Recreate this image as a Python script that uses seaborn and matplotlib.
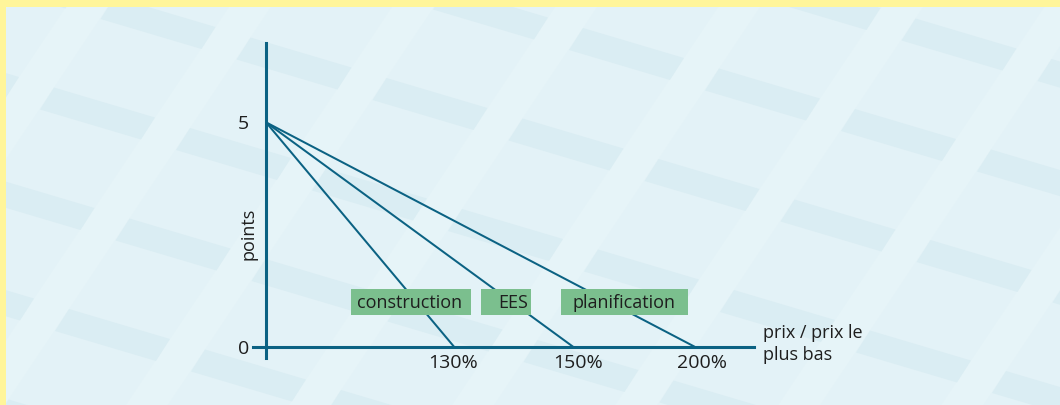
import numpy as np
import pandas as pd
import seaborn as sns
import matplotlib.pyplot as plt
import matplotlib.transforms as mtransforms
from matplotlib.patches import Polygon, Rectangle

# ---------------------------------------------------------------
# Données
# ---------------------------------------------------------------
series = ["construction", "EES", "planification"]
ratio_zero = [1.30, 1.50, 2.00]      # prix / prix le plus bas où l'on tombe à 0 point
max_points = 5
ratio_start = 1.00                   # prix le plus bas

y_ticks = [0, 5]
x_tick_labels = ["130%", "150%", "200%"]

# ---------------------------------------------------------------
# Mise en page
# ---------------------------------------------------------------
W, H = 1060, 405
line_col = "#0b6283"
text_col = "#1e1e1e"
box_col = "#7bbf8e"
yellow = "#fff59a"
bg_col = "#e3f2f7"
band_col = "#e6f4f8"
stripe_col = "#daedf3"

# l'axe x est schématique (non linéaire) : position en px de chaque ratio
knots_ratio = np.array([1.0, 1.3, 1.5, 2.0])
knots_px = np.array([0.0, 188.0, 307.0, 428.6])


def _pw(x, xs, ys):
    x = np.asarray(x, dtype=float)
    y = np.interp(x, xs, ys)
    lo = ys[0] + (x - xs[0]) * (ys[1] - ys[0]) / (xs[1] - xs[0])
    hi = ys[-1] + (x - xs[-1]) * (ys[-1] - ys[-2]) / (xs[-1] - xs[-2])
    return np.where(x < xs[0], lo, np.where(x > xs[-1], hi, y))


def fwd(x):
    return _pw(x, knots_ratio, knots_px)


def inv(p):
    return _pw(p, knots_px, knots_ratio)


df = pd.DataFrame({
    "serie": np.repeat(series, 2),
    "ratio": np.ravel([[ratio_start, r] for r in ratio_zero]),
    "points": np.tile([max_points, 0], len(series)),
})

sns.set_theme(style="white")
plt.rcParams["font.family"] = ["Open Sans", "DejaVu Sans"]

fig = plt.figure(figsize=(W / 100, H / 100), dpi=100)
fig.patch.set_facecolor(yellow)

# fond à motif (coordonnées en pixels)
bg = fig.add_axes([6 / W, 0, 1 - 6 / W, (H - 7) / H])
bg.set_xlim(6, W)
bg.set_ylim(H, 7)
bg.axis("off")
bg.add_patch(Rectangle((0, 0), W, H, color=bg_col, zorder=0))

p0 = np.array([583.0, 28.0])
va = np.array([136.0, 40.5])
vb = np.array([-60.5, 90.5])
top = np.array([101.0, 30.0])
side = np.array([-14.0, 22.0])
for k in range(-6, 10):
    q1 = p0 + top + k * va
    q2 = p0 + va + k * va
    bg.add_patch(Polygon([q1 - 6 * vb, q1 + 6 * vb, q2 + 6 * vb, q2 - 6 * vb],
                         closed=True, color=band_col, lw=0, zorder=1))
for m in range(-8, 10):
    for n in range(-4, 6):
        p = p0 + m * va + n * vb
        bg.add_patch(Polygon([p, p + top, p + top + side, p + side],
                             closed=True, color=stripe_col, lw=0, zorder=2))

# graphique
x_left, x_right = 252.5, 753.8
y_top, y_bot = 42.7, 357.7
origin_px = 266.0
ax = fig.add_axes([x_left / W, (H - y_bot) / H,
                   (x_right - x_left) / W, (y_bot - y_top) / H])
ax.patch.set_alpha(0)
ax.set_xscale("function", functions=(fwd, inv))

sns.lineplot(data=df, x="ratio", y="points", hue="serie",
             palette=[line_col] * len(series), legend=False, sort=False,
             lw=1.45, ax=ax, zorder=3)

ax.set_xlim(inv(x_left - origin_px), inv(x_right - origin_px))
px_per_pt = (346.7 - 122.3) / max_points
ax.set_ylim(-(y_bot - 346.7) / px_per_pt, (346.7 - y_top) / px_per_pt)

for s in ["top", "right"]:
    ax.spines[s].set_visible(False)
ax.spines["left"].set_position(("data", ratio_start))
ax.spines["bottom"].set_position(("data", 0))
for s in ["left", "bottom"]:
    ax.spines[s].set_color(line_col)
    ax.spines[s].set_linewidth(2.2)
    ax.spines[s].set_zorder(4)

ax.set_yticks(y_ticks)
ax.set_yticklabels([str(t) for t in y_ticks])
ax.set_xticks(ratio_zero)
ax.set_xticklabels(x_tick_labels)
ax.tick_params(axis="y", length=0, pad=12, labelsize=14, labelcolor=text_col)
ax.tick_params(axis="x", length=0, pad=5, labelsize=14, labelcolor=text_col)
ax.set_xlabel("")
ax.set_ylabel("")

# petits décalages des étiquettes x comme dans l'original
for lbl, dx in zip(ax.get_xticklabels(), [-1, 5, 7]):
    lbl.set_transform(lbl.get_transform()
                      + mtransforms.ScaledTranslation(dx / 100, 0, fig.dpi_scale_trans))

ax.text(-0.008, 0.393, "points", transform=ax.transAxes, rotation=90,
        ha="center", va="center", fontsize=13, color=text_col)
ax.text(1.018, (y_bot - 344) / (y_bot - y_top), "prix / prix le\nplus bas",
        transform=ax.transAxes, ha="left", va="center", fontsize=13,
        color=text_col, linespacing=1.3)

# étiquettes vertes
box_left = [351, 481, 561]
box_right = [471, 531, 688]
box_y0, box_y1 = 289, 315
text_cx = [410, 513, 623.5]
for lab, l, r, cx in zip(series, box_left, box_right, text_cx):
    ax.add_artist(Rectangle((l, box_y0), r - l, box_y1 - box_y0, color=box_col,
                            lw=0, transform=bg.transData, zorder=5, clip_on=False))
    ax.text(cx, (box_y0 + box_y1) / 2 + 0.5, lab, transform=bg.transData,
            ha="center", va="center", fontsize=13, color=text_col, zorder=6)

fig.savefig("out.png", dpi=100, facecolor=fig.get_facecolor())
